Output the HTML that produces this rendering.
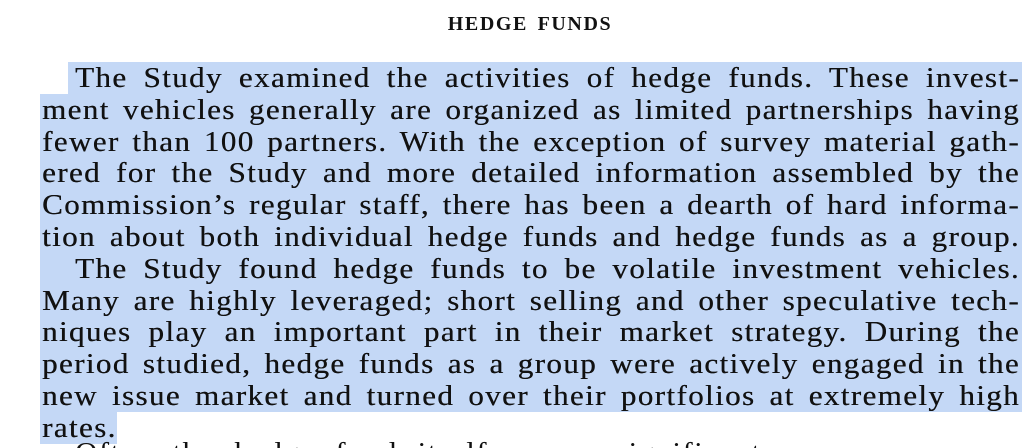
<!DOCTYPE html>
<html><head><meta charset="utf-8">
<style>
html,body{margin:0;padding:0;background:#fff;width:1032px;height:448px;overflow:hidden;}
body{position:relative;font-family:"Liberation Serif",serif;color:#111;}
.title{position:absolute;left:330px;width:400px;top:12px;text-align:center;font-size:20px;line-height:24px;font-weight:bold;white-space:nowrap;letter-spacing:1.6px;word-spacing:3px;}
.ln{position:absolute;height:32px;background:#c4d8f6;font-size:29px;line-height:32px;white-space:nowrap;}
.ln span{display:block;text-align:justify;text-align-last:justify;letter-spacing:1.3px;text-shadow:0.3px 0 0 #111;}
</style></head><body>
<div class="title">HEDGE FUNDS</div>
<div id="text"></div>
<script>
const lines=[
["The Study examined the activities of hedge funds. These invest-",68,1022,75],
["ment vehicles generally are organized as limited partnerships having",40,1022,42],
["fewer than 100 partners. With the exception of survey material gath-",40,1022,42],
["ered for the Study and more detailed information assembled by the",40,1022,42],
["Commission’s regular staff, there has been a dearth of hard informa-",40,1022,42],
["tion about both individual hedge funds and hedge funds as a group.",40,1022,42],
["The Study found hedge funds to be volatile investment vehicles.",40,1022,75],
["Many are highly leveraged; short selling and other speculative tech-",40,1022,42],
["niques play an important part in their market strategy. During the",40,1022,42],
["period studied, hedge funds as a group were actively engaged in the",40,1022,42],
["new issue market and turned over their portfolios at extremely high",40,1022,42],
["rates.",40,117,42]
];
const c=document.getElementById('text');
lines.forEach((l,i)=>{
  const d=document.createElement('div');
  d.className='ln';
  
  
  d.style.left=l[1]+'px';d.style.width=(l[2]-l[1])+'px';d.style.top=(62+i*31.8)+'px';
  const s=document.createElement('span');
  s.textContent=l[0];
  s.style.marginLeft=(l[3]-l[1])+'px';
  const w=l[2]-2-l[3];
  if(i===11){s.style.textAlignLast='left';s.style.transform='scaleX(1.07)';s.style.transformOrigin='left';}
  else{s.style.width=(w/1.07)+'px';s.style.transform='scaleX(1.07)';s.style.transformOrigin='left';}
  d.appendChild(s);c.appendChild(d);
});
const o=document.createElement('div');


o.style.cssText='position:absolute;left:75px;top:437px;font-size:29px;line-height:32px;white-space:nowrap;letter-spacing:1.3px;word-spacing:10px;transform:scaleX(1.07);transform-origin:left;';
o.textContent='Often the hedge fund itself was a significant';
c.appendChild(o);
</script>
</body></html>
